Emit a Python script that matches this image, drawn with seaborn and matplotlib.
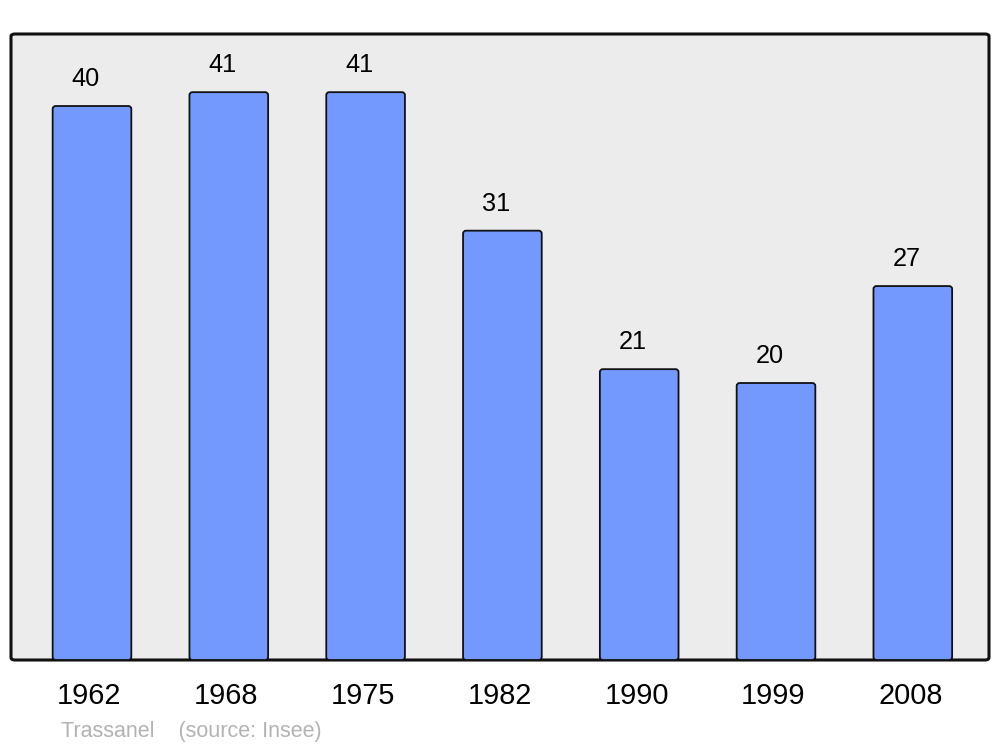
import matplotlib
matplotlib.use("Agg")
import matplotlib.pyplot as plt
import matplotlib.transforms as mtransforms
import seaborn as sns
import pandas as pd
from matplotlib.patches import FancyBboxPatch

years = ["1962", "1968", "1975", "1982", "1990", "1999", "2008"]
population = [40, 41, 41, 31, 21, 20, 27]
footer = "Trassanel    (source: Insee)"

sns.set_theme(style="white")
plt.rcParams['font.family'] = ['Liberation Sans', 'DejaVu Sans']

df = pd.DataFrame({"year": years, "pop": population})

fig = plt.figure(figsize=(10, 7.47), dpi=100)
ax = fig.add_axes([0.011, 87/747, 0.978, 626/747])
ax.set_facecolor("none")

# rounded frame background
frame = FancyBboxPatch((0, 0), 1, 1, boxstyle="round,pad=0,rounding_size=0.004",
                       transform=ax.transAxes, facecolor="#ECECEC", edgecolor="#111111",
                       linewidth=2.2, zorder=0, clip_on=False)
ax.add_patch(frame)

sns.barplot(data=df, x="year", y="pop", color="#7399FF", saturation=1,
            width=0.575, edgecolor="#111111", linewidth=1.3, ax=ax, zorder=2)

# replace bars with slightly rounded versions
xunit_px = 978 / 7.149
yunit_px = 626 / 45.2
for p in list(ax.patches):
    if p is frame:
        continue
    x0, y0, w, h = p.get_x(), p.get_y(), p.get_width(), p.get_height()
    rb = FancyBboxPatch((x0, y0), w, h,
                        boxstyle="round,pad=0,rounding_size=%f" % (3 / xunit_px),
                        mutation_aspect=xunit_px / yunit_px,
                        facecolor=p.get_facecolor(), edgecolor="#111111",
                        linewidth=1.3, zorder=2)
    p.set_visible(False)
    ax.add_patch(rb)

off = -6.5 / xunit_px
for i, v in enumerate(population):
    ax.text(i + off, v + 1.95, str(v), ha="center", va="center", fontsize=18.3, color="black")

ax.set_xlim(-0.592, 6.557)
ax.set_ylim(0, 45.2)
ax.set_yticks([])
ax.set_xlabel("")
ax.set_ylabel("")
for s in ax.spines.values():
    s.set_visible(False)
ax.tick_params(axis="x", length=0, pad=16, labelsize=20.8, colors="black")
shift = mtransforms.ScaledTranslation(-2.5 / 100, 0, fig.dpi_scale_trans)
for lab in ax.get_xticklabels():
    lab.set_transform(lab.get_transform() + shift)

fig.text(0.061, 1 - 737/747, footer, fontsize=15.5, color="#B3B3B3", ha="left", va="baseline")

fig.savefig("out.png", dpi=100, facecolor="white")
